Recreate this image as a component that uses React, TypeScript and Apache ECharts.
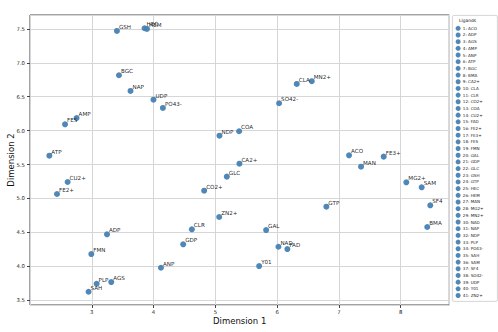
import React, { useEffect, useRef } from "react";
import * as echarts from "echarts";

const ligands = [
  "ACO", "ADP", "AGS", "AMP", "ANP", "ATP", "BGC", "BMA", "CA2+", "CLA",
  "CLR", "CO2+", "COA", "CU2+", "FAD", "FE2+", "FE3+", "FES", "FMN", "GAL",
  "GDP", "GLC", "GSH", "GTP", "HEC", "HEM", "MAN", "MG2+", "MN2+", "NAD",
  "NAP", "NDP", "PLP", "PO43-", "SAH", "SAM", "SF4", "SO42-", "UDP", "Y01", "ZN2+",
];

const dim1 = [
  7.164, 3.246, 3.315, 2.754, 4.119, 2.313, 3.44, 8.43, 5.39, 6.318,
  4.62, 4.819, 5.385, 2.609, 6.166, 2.437, 7.725, 2.567, 2.992, 5.822,
  4.48, 5.186, 3.407, 6.797, 3.854, 3.893, 7.358, 8.091, 6.561, 6.021,
  3.627, 5.067, 3.078, 4.151, 2.948, 8.34, 8.479, 6.032, 3.999, 5.709, 5.062,
];

const dim2 = [
  5.637, 4.472, 3.768, 6.187, 3.979, 5.631, 6.817, 4.58, 5.513, 6.689,
  4.546, 5.115, 5.991, 5.243, 4.255, 5.066, 5.617, 6.094, 4.181, 4.535,
  4.325, 5.322, 7.47, 4.879, 7.51, 7.5, 5.469, 5.239, 6.729, 4.289,
  6.586, 5.926, 3.743, 6.335, 3.625, 5.165, 4.9, 6.404, 6.457, 4.004, 4.727,
];

const FONT = "DejaVu Sans";
const POINT_COLOR = "#4682b4";

export default function App() {
  const ref = useRef<HTMLDivElement>(null);

  useEffect(() => {
    document.body.style.margin = "0";
    if (!ref.current) return;
    const chart = echarts.init(ref.current, undefined, { renderer: "svg" });

    const series = ligands.map((name, i) => ({
      type: "scatter",
      name: `${i + 1}: ${name}`,
      data: [[dim1[i], dim2[i]]],
      symbolSize: 6,
      itemStyle: { color: POINT_COLOR, opacity: 0.95 },
      label: {
        show: true,
        formatter: () => name,
        position: [5, -1],
        align: "left",
        verticalAlign: "middle",
        fontFamily: FONT,
        fontSize: 5.6,
        color: "#111",
      },
      emphasis: { disabled: true },
    }));

    const option: any = {
      animation: false,
      backgroundColor: "#ffffff",
      grid: {
        left: 30,
        top: 15,
        right: 48.7,
        bottom: 27,
        show: true,
        borderColor: "#444",
        borderWidth: 1,
        backgroundColor: "transparent",
        containLabel: false,
        outerBoundsMode: "none",
      },
      xAxis: {
        type: "value",
        min: 2.0,
        max: 8.787,
        splitNumber: 7,
        name: "Dimension 1",
        nameLocation: "middle",
        nameGap: 11,
        nameMoveOverlap: false,
        nameTextStyle: { fontFamily: FONT, fontSize: 8.5, color: "#111" },
        axisLine: { show: false },
        axisTick: { show: true, length: 3, lineStyle: { color: "#444" } },
        axisLabel: {
          fontFamily: FONT,
          fontSize: 5.3,
          color: "#222",
          margin: 4,
          showMinLabel: false,
          showMaxLabel: false,
          formatter: (v: number) => (Math.abs(v - Math.round(v)) < 1e-6 ? String(Math.round(v)) : ""),
        },
        splitLine: { show: true, lineStyle: { color: "#d6d6d6", width: 1 } },
      },
      yAxis: {
        type: "value",
        min: 3.43,
        max: 7.705,
        splitNumber: 8,
        name: "Dimension 2",
        nameLocation: "middle",
        nameGap: 15,
        nameMoveOverlap: false,
        nameTextStyle: { fontFamily: FONT, fontSize: 8.5, color: "#111" },
        axisLine: { show: false },
        axisTick: { show: true, length: 3, lineStyle: { color: "#444" } },
        axisLabel: {
          fontFamily: FONT,
          fontSize: 5.3,
          color: "#222",
          margin: 5,
          showMinLabel: false,
          showMaxLabel: false,
          formatter: (v: number) => v.toFixed(1),
        },
        splitLine: { show: true, lineStyle: { color: "#d6d6d6", width: 1 } },
      },
      legend: {
        orient: "vertical",
        left: 455.6,
        top: 25.8,
        padding: 0,
        itemWidth: 5,
        itemHeight: 5,
        itemGap: 1.68,
        icon: "circle",
        data: ligands.map((name, i) => `${i + 1}: ${name}`),
        textStyle: {
          fontFamily: FONT,
          fontSize: 4.1,
          color: "#222",
          lineHeight: 5,
          padding: [0, 0, 0, -2.8],
        },
        selectedMode: false,
      },
      graphic: [
        {
          type: "rect",
          left: 452,
          top: 15,
          shape: { width: 45, height: 286, r: 1.5 },
          style: { fill: "#fff", stroke: "#cccccc", lineWidth: 0.8 },
          z: -1,
          silent: true,
        },
        {
          type: "text",
          left: 459,
          top: 18,
          style: {
            text: "Ligands",
            fontFamily: FONT,
            fontSize: 4.4,
            fill: "#111",
          },
          silent: true,
        },
      ],
      series,
    };

    chart.setOption(option);
    return () => chart.dispose();
  }, []);

  return <div ref={ref} style={{ width: 498, height: 332 }} />;
}
